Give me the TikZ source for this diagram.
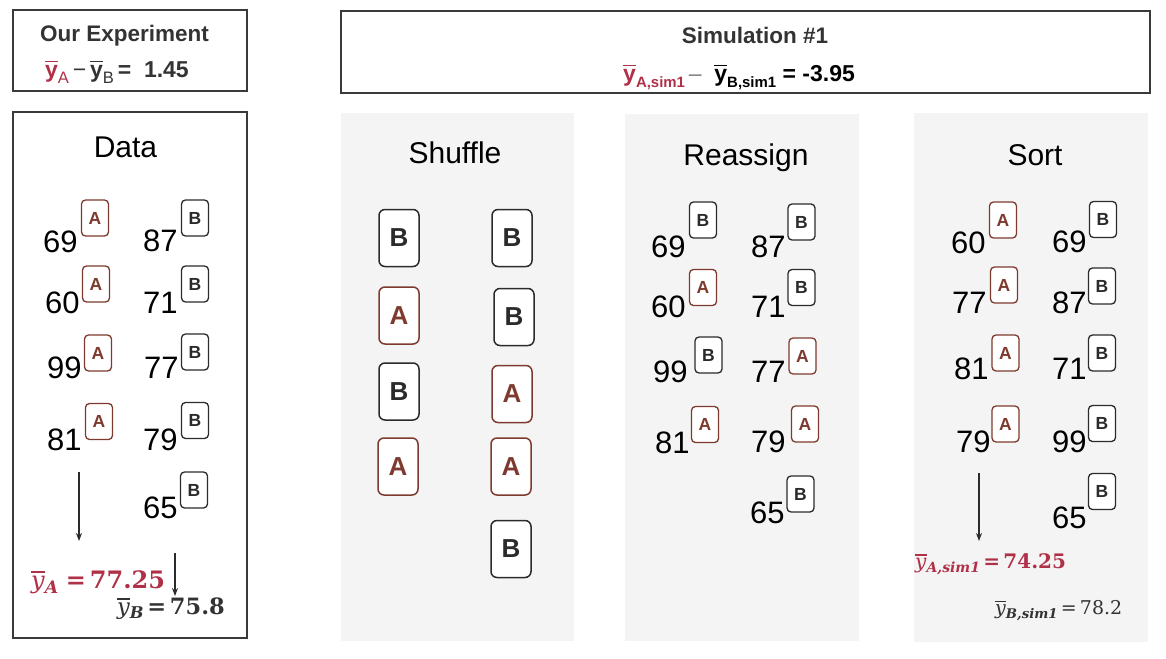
\documentclass[tikz,border=0pt]{standalone}
\usepackage{graphicx}
\usepackage{fontspec}
\setmainfont{Liberation Sans}
\newfontfamily\dserif{DejaVu Serif}
\usetikzlibrary{arrows.meta}
\definecolor{yred}{HTML}{B03048}
\definecolor{abrown}{HTML}{7E3A2E}
\definecolor{dk}{HTML}{2B2B2B}
\definecolor{gr}{HTML}{333333}
\definecolor{panel}{HTML}{F4F4F4}
\definecolor{frame}{HTML}{3A3A3A}
\newcommand\ybar[2][0.68em]{\setbox0\hbox{#2}\rlap{\raisebox{#1}{\rule{\wd0}{0.07em}}}\box0}
\newcommand\sbs[2][0.65]{\raisebox{-0.22em}{\scalebox{#1}{#2}}}
\tikzset{
 badgeA/.style={draw=abrown, text=abrown, line width=1.3pt, rounded corners=4pt, minimum width=27pt, minimum height=36pt, inner sep=0pt, font=\fontsize{17.5}{17.5}\selectfont\bfseries, fill=white},
 badgeB/.style={badgeA, draw=dk, text=dk},
 cardA/.style={draw=abrown, text=abrown, line width=1.5pt, rounded corners=6pt, minimum width=40pt, minimum height=57pt, inner sep=0pt, font=\fontsize{26}{26}\selectfont\bfseries, fill=white},
 cardB/.style={cardA, draw=dk, text=dk},
 num/.style={anchor=base west, inner sep=0pt, font=\fontsize{31}{31}\selectfont, text=black},
 head/.style={anchor=base, inner sep=0pt, font=\fontsize{30}{30}\selectfont, text=black},
 title/.style={anchor=base, inner sep=0pt, font=\fontsize{22.5}{22.5}\selectfont\bfseries, text=gr},
 frameb/.style={draw=frame, line width=1.6pt},
 arr/.style={-{Stealth[length=8pt,width=6pt]}, line width=1.4pt, draw=dk},
}
\begin{document}
\begin{tikzpicture}[x=1pt,y=-1pt]
\useasboundingbox (0,0) rectangle (1166,658);
% frames and panels
\draw[frameb] (13,10) rectangle (247,91);
\draw[frameb] (341,11) rectangle (1150,93);
\draw[frameb] (13,112) rectangle (247,638);
\fill[panel] (341,113) rectangle (574,641);
\fill[panel] (625,114) rectangle (859,641);
\fill[panel] (914,113) rectangle (1148,642);
% headers
\node[title] (t1) at (124.5,42) {Our Experiment};
\node[anchor=base west, inner sep=0pt, font=\fontsize{23}{23}\selectfont] (t1eq) at (45,78)
 {{\color{yred}\ybar{\bfseries y}\sbs[0.72]{A}}\,{\color{gr}\textminus}\,{\color{gr}\ybar{\bfseries y}\sbs[0.72]{B}\bfseries\,=\ \ 1.45}};
\node[title] (t2) at (755,44) {Simulation \#1};
\node[anchor=base west, inner sep=0pt, font=\fontsize{23}{23}\selectfont\bfseries] (t2eq) at (623,82)
 {{\color{yred}\ybar{y}\sbs[0.65]{A,sim1}}\,{\color{gray}\mdseries\textendash}\ \ \ybar{y}\sbs[0.65]{B,sim1}\ = -3.95};
% headings
\node[head] (hdata) at (125.5,157) {Data};
\node[head] (hshuf) at (455,163) {Shuffle};
\node[head] (hre) at (746,165) {Reassign};
\node[head] (hsort) at (1035,165) {Sort};
% Data column
\node[num] (dn1) at (43,252) {69}; \node[badgeA] (db1) at (95,218) {A};
\node[num] (dn2) at (45,313) {60}; \node[badgeA] (db2) at (96,284) {A};
\node[num] (dn3) at (47,378) {99}; \node[badgeA] (db3) at (98,353) {A};
\node[num] (dn4) at (47,450) {81}; \node[badgeA] (db4) at (99,421.5) {A};
\node[num] (dn5) at (143,251) {87}; \node[badgeB] (db5) at (195,218) {B};
\node[num] (dn6) at (143,313) {71}; \node[badgeB] (db6) at (195,284) {B};
\node[num] (dn7) at (144,378) {77}; \node[badgeB] (db7) at (195,352) {B};
\node[num] (dn8) at (143,450) {79}; \node[badgeB] (db8) at (195,420.5) {B};
\node[num] (dn9) at (143,518) {65}; \node[badgeB] (db9) at (194,490) {B};
\coordinate (da1) at (79,472); \coordinate (da2) at (79,541);
\draw[arr] (da1) -- (da2);
\node[anchor=base west, inner sep=0pt, text=yred, font=\dserif\fontsize{24}{24}\selectfont] (dya) at (31,588)
 {\ybar[0.62em]{\itshape y}\sbs[0.72]{\itshape\bfseries A}\ \bfseries=\,77.25};
\coordinate (db1a) at (175,553); \coordinate (db2a) at (175,596);
\draw[arr] (db1a) -- (db2a);
\node[anchor=base west, inner sep=0pt, text=gr, font=\dserif\fontsize{22.5}{22.5}\selectfont] (dyb) at (117,614)
 {\ybar[0.62em]{\itshape y}\sbs[0.72]{\itshape\bfseries B}\,\bfseries=\,75.8};
% Shuffle cards
\node[cardB] (c1) at (399,238) {B};
\node[cardB] (c2) at (512,238) {B};
\node[cardA] (c3) at (399,315.5) {A};
\node[cardB] (c4) at (514,317) {B};
\node[cardB] (c5) at (399,391.5) {B};
\node[cardA] (c6) at (512,394) {A};
\node[cardA] (c7) at (398,466.5) {A};
\node[cardA] (c8) at (511,466.5) {A};
\node[cardB] (c9) at (511,549) {B};
% Reassign
\node[num] (rn1) at (651,257) {69}; \node[badgeB] (rb1) at (703,220) {B};
\node[num] (rn2) at (651,317) {60}; \node[badgeA] (rb2) at (703,287.5) {A};
\node[num] (rn3) at (653,382) {99}; \node[badgeB] (rb3) at (708.5,355) {B};
\node[num] (rn4) at (655,453) {81}; \node[badgeA] (rb4) at (705,424.5) {A};
\node[num] (rn5) at (751,257) {87}; \node[badgeB] (rb5) at (801.5,222) {B};
\node[num] (rn6) at (751,317) {71}; \node[badgeB] (rb6) at (801.5,287.5) {B};
\node[num] (rn7) at (751,382) {77}; \node[badgeA] (rb7) at (802.5,356) {A};
\node[num] (rn8) at (751,452) {79}; \node[badgeA] (rb8) at (805,424) {A};
\node[num] (rn9) at (750,523) {65}; \node[badgeB] (rb9) at (800.5,494) {B};
% Sort
\node[num] (sn1) at (951,253) {60}; \node[badgeA] (sb1) at (1003,220) {A};
\node[num] (sn2) at (952,313) {77}; \node[badgeA] (sb2) at (1004,285) {A};
\node[num] (sn3) at (954,379) {81}; \node[badgeA] (sb3) at (1005.5,353) {A};
\node[num] (sn4) at (956,452) {79}; \node[badgeA] (sb4) at (1005.5,424) {A};
\node[num] (sn5) at (1052,252) {69}; \node[badgeB] (sb5) at (1103,219.5) {B};
\node[num] (sn6) at (1052,313) {87}; \node[badgeB] (sb6) at (1102,286) {B};
\node[num] (sn7) at (1052,379) {71}; \node[badgeB] (sb7) at (1102,353) {B};
\node[num] (sn8) at (1052,452) {99}; \node[badgeB] (sb8) at (1102,423.5) {B};
\node[num] (sn9) at (1052,528) {65}; \node[badgeB] (sb9) at (1102,491.5) {B};
\coordinate (sa1) at (979,473); \coordinate (sa2) at (979,541);
\draw[arr] (sa1) -- (sa2);
\node[anchor=base west, inner sep=0pt, text=yred, font=\dserif\fontsize{20}{20}\selectfont] (sya) at (915,568)
 {\ybar[0.62em]{\itshape y}\sbs[0.7]{\itshape\bfseries A,sim1}\,\bfseries=\,74.25};
\node[anchor=base west, inner sep=0pt, text=gr, font=\dserif\fontsize{19}{19}\selectfont] (syb) at (995,614)
 {\ybar[0.62em]{\itshape y}\sbs[0.7]{\itshape\bfseries B,sim1}\,=\,78.2};
\end{tikzpicture}
\end{document}
